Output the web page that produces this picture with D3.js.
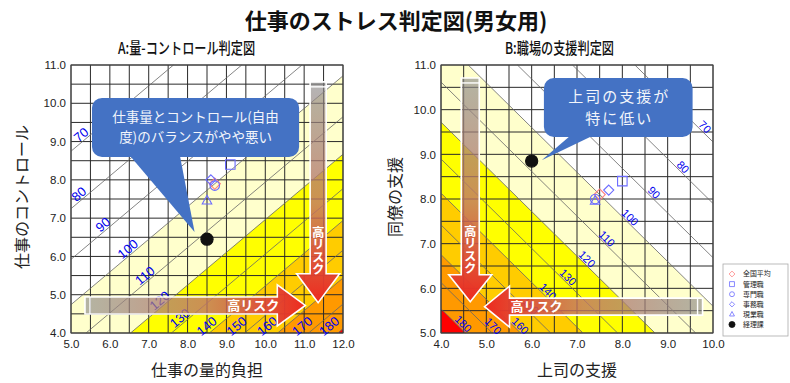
<!DOCTYPE html>
<html><head><meta charset="utf-8">
<script src="https://cdn.jsdelivr.net/npm/d3@7"></script>
<style>body{margin:0;background:#fff}svg{display:block}.vt{writing-mode:vertical-rl;text-orientation:upright}</style>
</head><body><svg id="c" width="790" height="383"></svg>
<script>
// ---------------- data ----------------
const groups = ["全国平均", "管理職", "専門職", "事務職", "現業職", "経理課"];
// A: 量-コントロール
const workload = [8.7, 9.1, 8.7, 8.6, 8.5, 8.5];
const control  = [7.9, 8.4, 7.85, 8.0, 7.45, 6.45];
// B: 職場の支援
const supervisorSupport = [7.5, 8.0, 7.4, 7.7, 7.4, 6.0];
const coworkerSupport   = [8.1, 8.4, 8.0, 8.2, 7.95, 8.85];

const riskLevels = [70, 80, 90, 100, 110, 120, 130, 140, 150, 160, 170, 180];
const bandThresholds = [100, 120, 140, 160, 180];
// label anchor (along x) for each risk line
const labelAtA = [5.26, 5.2, 5.82, 6.46, 6.9, 7.28, 7.8, 8.49, 9.26, 10.05, 10.95, 11.64];
const labelAtB = [9.82, 9.34, 8.70, 8.17, 7.66, 7.22, 6.80, 6.36, 5.97, 5.75, 5.15, 4.49];

const ticksAX = [5, 6, 7, 8, 9, 10, 11, 12];
const ticksAY = [4, 5, 6, 7, 8, 9, 10, 11];
const ticksBX = [4, 5, 6, 7, 8, 9, 10];
const ticksBY = [5, 6, 7, 8, 9, 10, 11];

// risk model: risk = 100*exp(cx*(X-mx) + cy*(Y-my))
const modelA = {cx: 0.076, cy: -0.089, mx: 8.7, my: 7.9};
const modelB = {cx: -0.097, cy: -0.097, mx: 7.5, my: 8.1};

// ---------------- drawing ----------------
const bandColors = ["#FFFFCC", "#FFFF00", "#FFCC00", "#FF9900", "#FF0000"];
const svg = d3.select("#c");
const defs = svg.append("defs");
const JP = "'Noto Sans CJK JP','Noto Sans',sans-serif";
const NUM = "'Liberation Sans',Arial,sans-serif";

svg.append("text").attr("x", 396).attr("y", 29).attr("text-anchor", "middle")
  .attr("font-family", JP).attr("font-weight", "bold").attr("font-size", 22).attr("fill", "#111")
  .text("仕事のストレス判定図(男女用)");

const panels = [
  {sx: d3.scaleLinear([5, 12], [71, 343]), sy: d3.scaleLinear([4, 11], [333, 65]),
   model: modelA, xs: workload, ys: control, labelAt: labelAtA, lblSize: 13, lblOff: 8,
   ticksX: ticksAX, ticksY: ticksAY, xTitle: "仕事の量的負担", yTitle: "仕事のコントロール",
   yTitleX: 22, sub: "A:量-コントロール判定図", subX: 118},
  {sx: d3.scaleLinear([4, 10], [441, 713]), sy: d3.scaleLinear([5, 11], [333, 65]),
   model: modelB, xs: supervisorSupport, ys: coworkerSupport, labelAt: labelAtB, lblSize: 11, lblOff: 7,
   ticksX: ticksBX, ticksY: ticksBY, xTitle: "上司の支援", yTitle: "同僚の支援",
   yTitleX: 395, sub: "B:職場の支援判定図", subX: 505}
];

function gval(m, p) { return m.cx * (p[0] - m.mx) + m.cy * (p[1] - m.my); }
function clipHalf(poly, m, k) {
  const out = [];
  for (let i = 0; i < poly.length; i++) {
    const P = poly[i], Q = poly[(i + 1) % poly.length];
    const gp = gval(m, P) - k, gq = gval(m, Q) - k;
    if (gp >= 0) out.push(P);
    if ((gp >= 0) !== (gq >= 0)) { const t = gp / (gp - gq); out.push([P[0] + t * (Q[0] - P[0]), P[1] + t * (Q[1] - P[1])]); }
  }
  return out;
}
function lineY(m, k, X) { return m.my + (k - m.cx * (X - m.mx)) / m.cy; }

const markerColor = ["#FF7F7F", "#6B6BFF", "#6B6BFF", "#6B6BFF", "#6B6BFF", "#111"];
const markerShape = ["diamond", "square", "circle", "diamondS", "triangle", "dot"];
function symbolPath(shape, s) {
  switch (shape) {
    case "diamond": return `M0,${-s}L${s},0L0,${s}L${-s},0Z`;
    case "diamondS": return `M0,${-s * 0.9}L${s * 0.9},0L0,${s * 0.9}L${-s * 0.9},0Z`;
    case "square": return `M${-s * 0.85},${-s * 0.85}h${s * 1.7}v${s * 1.7}h${-s * 1.7}Z`;
    case "triangle": return `M0,${-s}L${s * 0.85},${s * 0.55}L${-s * 0.85},${s * 0.55}Z`;
    default: return d3.arc()({innerRadius: 0, outerRadius: shape === "dot" ? s * 1.05 : s * 0.85, startAngle: 0, endAngle: 2 * Math.PI});
  }
}

panels.forEach((P, pi) => {
  const {sx, sy, model} = P;
  const [x0, x1] = sx.domain(), [y0, y1] = sy.domain();
  const g = svg.append("g");
  const rect = [[x0, y0], [x1, y0], [x1, y1], [x0, y1]];
  g.append("rect").attr("x", sx(x0)).attr("y", sy(y1)).attr("width", sx(x1) - sx(x0)).attr("height", sy(y0) - sy(y1)).attr("fill", "#fff");
  // bands
  bandThresholds.forEach((t, i) => {
    const poly = clipHalf(rect, model, Math.log(t / 100));
    if (poly.length > 2) g.append("path").attr("d", "M" + poly.map(p => [sx(p[0]), sy(p[1])].join(",")).join("L") + "Z").attr("fill", bandColors[i]);
  });
  // grid
  const gx = d3.range(x0, x1 + 0.001, 0.5), gy = d3.range(y0, y1 + 0.001, 0.5);
  g.selectAll(null).data(gx).join("line").attr("x1", d => sx(d)).attr("x2", d => sx(d)).attr("y1", sy(y0)).attr("y2", sy(y1)).attr("stroke", "#2a2a2a").attr("stroke-width", 1);
  g.selectAll(null).data(gy).join("line").attr("y1", d => sy(d)).attr("y2", d => sy(d)).attr("x1", sx(x0)).attr("x2", sx(x1)).attr("stroke", "#2a2a2a").attr("stroke-width", 1);
  // risk lines
  riskLevels.forEach(r => {
    const k = Math.log(r / 100);
    const poly = clipHalf(rect, model, k);
    const ends = poly.filter(p => Math.abs(gval(model, p) - k) < 1e-9);
    if (ends.length >= 2) g.append("line").attr("x1", sx(ends[0][0])).attr("y1", sy(ends[0][1])).attr("x2", sx(ends[1][0])).attr("y2", sy(ends[1][1])).attr("stroke", "#666").attr("stroke-width", 0.8);
  });
  g.append("rect").attr("x", sx(x0)).attr("y", sy(y1)).attr("width", sx(x1) - sx(x0)).attr("height", sy(y0) - sy(y1)).attr("fill", "none").attr("stroke", "#444").attr("stroke-width", 1);
  // risk labels
  riskLevels.forEach((r, i) => {
    const k = Math.log(r / 100), X = P.labelAt[i];
    const px = sx(X), py = sy(lineY(model, k, X));
    const px2 = sx(X + 1), py2 = sy(lineY(model, k, X + 1));
    const ang = Math.atan2(py2 - py, px2 - px) * 180 / Math.PI;
    const cy = Math.min(py - P.lblOff, sy(y0) - 7);
    g.append("text").attr("transform", `translate(${px},${cy}) rotate(${ang})`).attr("text-anchor", "middle").attr("dy", "0.35em")
      .attr("font-family", NUM).attr("font-size", P.lblSize).attr("fill", "#0000EE").text(r);
  });
  // ticks
  const ax = g.append("g").attr("transform", `translate(0,${sy(y0) + 7})`).call(d3.axisBottom(sx).tickValues(P.ticksX).tickFormat(d3.format(".1f")).tickSize(0).tickPadding(0));
  const ay = g.append("g").attr("transform", `translate(${sx(x0) - 5},0)`).call(d3.axisLeft(sy).tickValues(P.ticksY).tickFormat(d3.format(".1f")).tickSize(0).tickPadding(0));
  [ax, ay].forEach(a => { a.select(".domain").remove(); a.selectAll("text").attr("font-family", NUM).attr("font-size", 11.5).attr("fill", "#222"); });
  // titles
  g.append("text").attr("x", (sx(x0) + sx(x1)) / 2).attr("y", 376).attr("text-anchor", "middle").attr("font-family", JP).attr("font-size", 16).attr("fill", "#222").text(P.xTitle);
  g.append("text").attr("transform", `translate(${P.yTitleX},197) rotate(-90)`).attr("text-anchor", "middle").attr("dy", "0.35em").attr("font-family", JP).attr("font-size", 16).attr("fill", "#222").text(P.yTitle);
  svg.append("text").attr("transform", `translate(${P.subX},54) scale(0.76,1)`).attr("font-family", JP).attr("font-weight", 500).attr("font-size", 16).attr("fill", "#111").text(P.sub);
  // points
  P.xs.forEach((v, i) => {
    const s = i === 5 ? 5.8 : 5.6;
    g.append("path").attr("transform", `translate(${sx(v)},${sy(P.ys[i])})`).attr("d", symbolPath(markerShape[i], s))
      .attr("fill", i === 5 ? "#111" : "none").attr("stroke", markerColor[i]).attr("stroke-width", 1.1);
  });
});

// ---------------- arrows ----------------
function arrow(id, S, T, w, hw, hl) {
  const L = Math.hypot(T[0] - S[0], T[1] - S[1]);
  const u = [(T[0] - S[0]) / L, (T[1] - S[1]) / L], n = [-u[1], u[0]];
  const B = [T[0] - u[0] * hl, T[1] - u[1] * hl];
  const pt = (b, f) => [b[0] + n[0] * f, b[1] + n[1] * f];
  const pts = [pt(S, w), pt(B, w), pt(B, hw), T, pt(B, -hw), pt(B, -w), pt(S, -w)];
  const grad = defs.append("linearGradient").attr("id", id).attr("gradientUnits", "userSpaceOnUse")
    .attr("x1", S[0]).attr("y1", S[1]).attr("x2", T[0]).attr("y2", T[1]);
  grad.append("stop").attr("offset", 0).attr("stop-color", "#8c8c8c").attr("stop-opacity", 0.65);
  grad.append("stop").attr("offset", 0.55).attr("stop-color", "#c07566").attr("stop-opacity", 0.8);
  grad.append("stop").attr("offset", 1).attr("stop-color", "#ee2a1e").attr("stop-opacity", 1);
  svg.append("path").attr("d", "M" + pts.map(p => p.join(",")).join("L") + "Z").attr("fill", `url(#${id})`).attr("stroke", "#fff").attr("stroke-width", 1.6).attr("stroke-linejoin", "miter");
  const a = pt([S[0] + u[0] * 5, S[1] + u[1] * 5], w), b = pt([S[0] + u[0] * 5, S[1] + u[1] * 5], -w);
  svg.append("line").attr("x1", a[0]).attr("y1", a[1]).attr("x2", b[0]).attr("y2", b[1]).attr("stroke", "#fff").attr("stroke-width", 1.4);
  const C = [T[0] - u[0] * 52, T[1] - u[1] * 52];
  const t = svg.append("text").attr("x", C[0]).attr("y", C[1]).attr("text-anchor", "middle").attr("font-family", JP).attr("font-weight", "bold").attr("fill", "#fff").text("高リスク");
  if (Math.abs(u[0]) > 0.5) t.attr("dy", "0.36em").attr("font-size", 13);
  else t.attr("class", "vt").attr("font-size", 12.5);
}
const [PA, PB] = panels;
arrow("gA1", [PA.sx(5.36), PA.sy(4.72)], [PA.sx(11.03), PA.sy(4.72)], 8.5, 20.5, 28);
arrow("gA2", [PA.sx(11.36), PA.sy(10.56)], [PA.sx(11.36), PA.sy(4.79)], 8, 21.5, 29);
arrow("gB1", [PB.sx(4.645), PB.sy(10.71)], [PB.sx(4.645), PB.sy(5.70)], 9, 21.5, 27);
arrow("gB2", [PB.sx(9.77), PB.sy(5.59)], [PB.sx(4.96), PB.sy(5.59)], 8.5, 20.5, 25);

// ---------------- callouts ----------------
function callout(P, X0, Y0, X1, Y1, baseA, baseB, tip, lines, fs, lh, ls) {
  const x0 = P.sx(X0), x1 = P.sx(X1), y0 = P.sy(Y0), y1 = P.sy(Y1);
  const gg = svg.append("g");
  gg.append("path").attr("d", `M${P.sx(baseA)},${y1 - 2}L${P.sx(tip[0])},${P.sy(tip[1])}L${P.sx(baseB)},${y1 - 2}Z`).attr("fill", "#4472C4");
  gg.append("rect").attr("x", x0).attr("y", y0).attr("width", x1 - x0).attr("height", y1 - y0).attr("rx", 10).attr("fill", "#4472C4");
  lines.forEach((t, i) => gg.append("text").attr("x", (x0 + x1) / 2 + ls / 2).attr("y", (y0 + y1) / 2 + (i - (lines.length - 1) / 2) * lh).attr("dy", "0.36em")
    .attr("text-anchor", "middle").attr("letter-spacing", ls).attr("font-family", JP).attr("font-size", fs).attr("fill", "#F2F5FB").text(t));
}
callout(PA, 5.54, 10.14, 10.87, 8.6, 6.5, 7.8, [8.18, 6.64], ["仕事量とコントロール(自由", "度)のバランスがやや悪い"], 13.5, 19.6, 0);
callout(PB, 6.27, 10.71, 9.55, 9.39, 6.87, 7.38, [6.22, 8.87], ["上司の支援が", "特に低い"], 15, 21.8, 2);

// ---------------- legend ----------------
const lg = svg.append("g");
lg.append("rect").attr("x", 723).attr("y", 264).attr("width", 65).attr("height", 72).attr("fill", "#fff").attr("stroke", "#aaa").attr("stroke-width", 0.8);
groups.forEach((name, i) => {
  const yy = 274 + i * 10.1;
  lg.append("path").attr("transform", `translate(732,${yy})`).attr("d", symbolPath(markerShape[i], 2.9))
    .attr("fill", i === 5 ? "#111" : "none").attr("stroke", markerColor[i]).attr("stroke-width", 0.8);
  lg.append("text").attr("x", 743).attr("y", yy).attr("dy", "0.36em").attr("font-family", JP).attr("font-size", 6.9).attr("fill", "#222").text(name);
});
</script></body></html>
